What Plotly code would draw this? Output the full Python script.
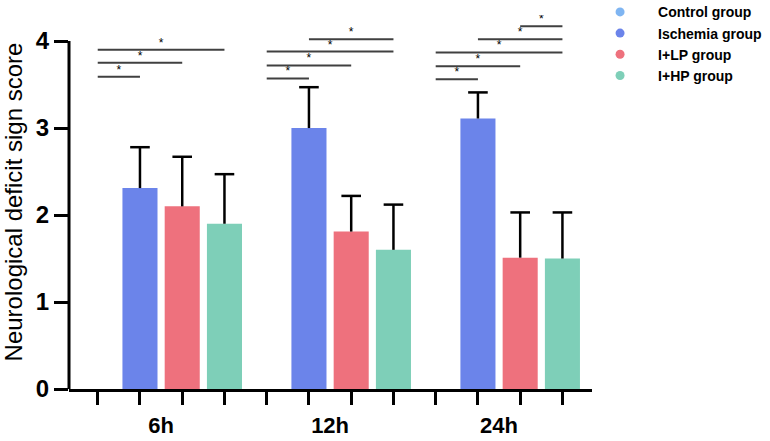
import plotly.graph_objects as go

categories = ["6h", "12h", "24h"]
series_names = ["Control group", "Ischemia group", "I+LP group", "I+HP group"]
series_colors = ["#7FB5F2", "#6B84EA", "#EE717D", "#7ECFB8"]
values = {
    "Control group": [0, 0, 0],
    "Ischemia group": [2.31, 3.00, 3.11],
    "I+LP group": [2.10, 1.81, 1.51],
    "I+HP group": [1.90, 1.60, 1.50],
}
errors = {
    "Control group": [0, 0, 0],
    "Ischemia group": [0.47, 0.47, 0.30],
    "I+LP group": [0.57, 0.41, 0.52],
    "I+HP group": [0.57, 0.52, 0.53],
}
y_ticks = [0, 1, 2, 3, 4]

# significance comparisons: group index, series index from, series index to, bracket level
sig_group = [0, 0, 0, 1, 1, 1, 1, 2, 2, 2, 2, 2]
sig_from = [0, 0, 0, 0, 0, 0, 1, 0, 0, 0, 1, 2]
sig_to = [1, 2, 3, 1, 2, 3, 3, 1, 2, 3, 3, 3]
sig_level = [3.59, 3.75, 3.90, 3.57, 3.72, 3.88, 4.02, 3.56, 3.71, 3.87, 4.02, 4.17]

n_series = len(series_names)
n_groups = len(categories)


def xpos(g, s):
    return g * n_series + s


fig = go.Figure()
for s, name in enumerate(series_names):
    xs = [xpos(g, s) for g in range(n_groups)]
    v = values[name]
    e = errors[name]
    if any(val > 0 for val in v):
        fig.add_trace(go.Bar(
            x=xs, y=v, width=0.83, marker=dict(color=series_colors[s], line=dict(width=0)),
            error_y=dict(type="data", symmetric=False, array=e, arrayminus=[0] * n_groups,
                         width=0, thickness=2.5, color="black"),
            showlegend=False, hoverinfo="skip",
        ))
        fig.add_trace(go.Scatter(
            x=xs, y=[a + b for a, b in zip(v, e)], mode="markers",
            marker=dict(symbol="line-ew", size=14, line=dict(width=2.5, color="black")),
            showlegend=False, hoverinfo="skip",
        ))
    fig.add_trace(go.Scatter(
        x=[None], y=[None], mode="markers", name=name,
        marker=dict(symbol="circle", size=9, color=series_colors[s]),
    ))

# brackets
bx, by, sx, sy = [], [], [], []
for g, a, b, lv in zip(sig_group, sig_from, sig_to, sig_level):
    bx += [xpos(g, a), xpos(g, b), None]
    by += [lv, lv, None]
    sx.append((xpos(g, a) + xpos(g, b)) / 2)
    sy.append(lv)
fig.add_trace(go.Scatter(x=bx, y=by, mode="lines", line=dict(color="#404040", width=2),
                         showlegend=False, hoverinfo="skip"))
fig.add_trace(go.Scatter(x=sx, y=sy, mode="text", text=["*"] * len(sx), textposition="top center",
                         textfont=dict(size=12, color="black", family="Liberation Sans"),
                         showlegend=False, hoverinfo="skip"))

fig.add_shape(type="line", xref="paper", yref="y", x0=0, x1=0, y0=0, y1=max(y_ticks),
              line=dict(color="black", width=3))

fig.update_layout(
    width=770, height=441,
    margin=dict(l=69, r=178, t=15, b=52, autoexpand=False),
    plot_bgcolor="white", paper_bgcolor="white",
    barmode="overlay",
    font=dict(family="Liberation Sans", color="black"),
    xaxis=dict(
        range=[-0.68, n_groups * n_series - 0.3],
        tickmode="array",
        tickvals=[xpos(g, 0) + (n_series - 1) / 2 for g in range(n_groups)],
        ticktext=categories,
        ticks="",
        ticklabelstandoff=15,
        tickfont=dict(size=22, family="Liberation Sans", weight="bold"),
        showline=True, linewidth=3, linecolor="black",
        showgrid=False, zeroline=False, automargin=False,
        minor=dict(tickmode="array", tickvals=list(range(n_groups * n_series)),
                   ticks="outside", ticklen=13, tickwidth=3, tickcolor="black", showgrid=False),
    ),
    yaxis=dict(
        range=[0, 4.3],
        tickmode="array", tickvals=y_ticks,
        ticks="outside", ticklen=14, tickwidth=3, tickcolor="black",
        tickfont=dict(size=24, family="Liberation Sans", weight="bold"),
        showline=False, showgrid=False, zeroline=False, automargin=False,
        title=dict(text="Neurological deficit sign score", font=dict(size=24), standoff=7),
    ),
    legend=dict(
        x=0.981, y=1.05, xanchor="left", yanchor="top",
        itemwidth=66,
        font=dict(size=14, family="Liberation Sans", weight="bold"),
        bgcolor="rgba(0,0,0,0)",
        tracegroupgap=0,
    ),
)

fig.write_html("out.html", config={"displayModeBar": False},
               post_script="document.body.style.margin='0px';")
